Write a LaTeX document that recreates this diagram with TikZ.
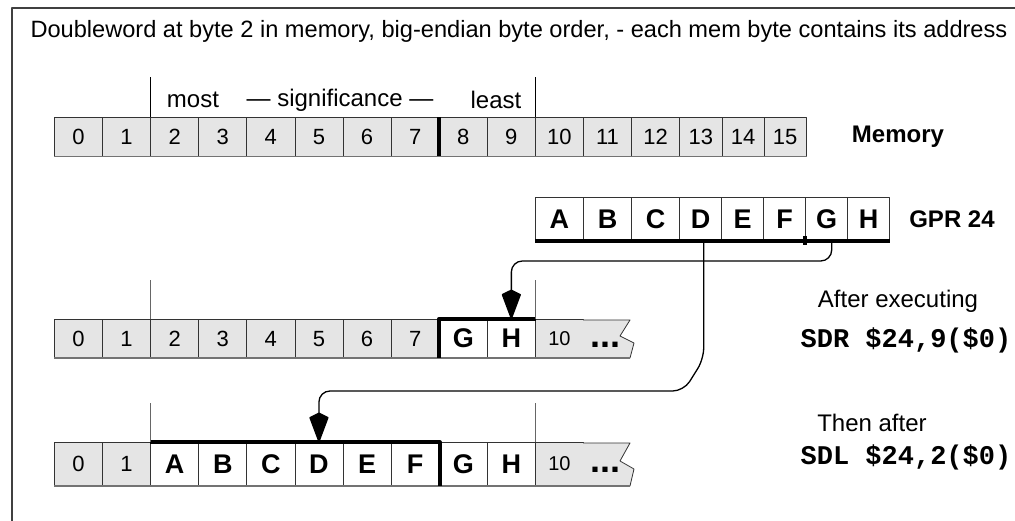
\documentclass[tikz,border=0pt]{standalone}
\usepackage{fontspec}
\setmainfont{Liberation Sans}
\setmonofont{Liberation Mono}
\usetikzlibrary{arrows.meta}

\tikzset{
  cell/.style={draw=black!80,line width=0.8pt,inner sep=0pt,anchor=south west},
  memcell/.style={cell,fill=black!10,font=\fontsize{22}{22}\selectfont},
  regcell/.style={cell,fill=white,font=\fontsize{27}{27}\selectfont\bfseries},
  dotcell/.style={cell,draw=none,fill=none,yshift=-6pt,font=\fontsize{36}{36}\selectfont\bfseries},
  bar/.style={line width=4pt,black},
  tick/.style={line width=0.8pt,black!60},
  floor/.style={line width=1.6pt,black!55},
  wire/.style={line width=1.3pt,rounded corners=11pt,-{Stealth[length=26pt,width=19pt,inset=-5pt,round]}},
  lbl/.style={font=\fontsize{24}{24}\selectfont},
  code/.style={font=\fontsize{27}{27}\selectfont\ttfamily\bfseries}
}

\begin{document}
\begin{tikzpicture}[x=1pt,y=-1pt,line cap=butt,line join=round]
  \useasboundingbox (0,0) rectangle (1015,521);
  % frame
  \draw[line width=1.2pt,black!75] (12,530) -- (12,8) -- (1020,8);
  \node[lbl,font=\fontsize{23.6}{24}\selectfont,anchor=west] (title) at (27,31)
    {Doubleword at byte 2 in memory, big-endian byte order, - each mem byte contains its address};

  % Memory
  \foreach \i in {0,...,12}
    \node[memcell,minimum width=48.1pt,minimum height=38.5pt] (m\i) at ({54+48.1*\i},156.5) {\i};
  \foreach \i in {13,14,15}
    \node[memcell,minimum width=42.2pt,minimum height=38.5pt] (m\i) at ({679.3+42.2*(\i-13)},156.5) {\i};
  \draw[floor] (m0.south west) -- (m15.south east);
  \draw[bar] (m8.north west) -- (m8.south west);
  \draw[line width=0.8pt] (m2.north west) -- ++(0,-40) (m10.north west) -- ++(0,-40);
  \node[lbl] (most) at (193,100) {most};
  \node[lbl] (signif) at (340,100) {--- significance ---};
  \node[lbl] (least) at (496,100) {least};
  \node[lbl,font=\fontsize{24}{24}\selectfont\bfseries] (memlbl) at (898,137) {Memory};

  % GPR 24
  \foreach \c [count=\k from 0] in {A,B,C}
    \node[regcell,minimum width=48.1pt,minimum height=43pt] (g\c) at ({535+48.1*\k},241) {\c};
  \foreach \c [count=\k from 0] in {D,E,F,G,H}
    \node[regcell,minimum width=42pt,minimum height=43pt] (g\c) at ({679.3+42*\k},241) {\c};
  \draw[bar] (gA.south west) -- (gH.south east);
  \draw[bar] ([yshift=5pt]gG.south west) -- ++(0,9);
  \node[lbl,font=\fontsize{24}{24}\selectfont\bfseries] (gprlbl) at (952,219) {GPR 24};

  % after SDR
  \foreach \i in {0,...,7}
    \node[memcell,minimum width=48.1pt,minimum height=38pt] (s\i) at ({54+48.1*\i},358) {\i};
  \node[regcell,minimum width=48.1pt,minimum height=38pt] (sG) at (438.8,358) {G};
  \node[regcell,minimum width=48.1pt,minimum height=38pt] (sH) at (486.9,358) {H};
  \node[memcell,minimum width=48.1pt,minimum height=38pt,font=\fontsize{20}{20}\selectfont] (s10) at (535,358) {10};
  \fill[black!10] (583,320) -- (630,320) -- (620,336) -- (634,343) -- (630,358) -- (583,358) -- cycle;
  \draw[line width=0.8pt,black!80] (583,320) -- (630,320) -- (620,336) -- (634,343) -- (630,358) -- (583,358);
  \draw[floor] (s0.south west) -- (630,358);
  \node[dotcell,minimum width=44pt,minimum height=38pt] (sdots) at (583,358) {...};
  \draw[bar] (sG.south west) -- (sG.north west) -- (sH.north east);
  \draw[tick] (s2.north west) -- ++(0,-39) (s10.north west) -- ++(0,-39);
  \node[lbl] (after) at (898,301) {After executing};
  \node[code] (sdr) at (906,340) {SDR \$24,9(\$0)};

  % after SDL
  \foreach \i in {0,1}
    \node[memcell,minimum width=48.1pt,minimum height=43pt] (t\i) at ({54+48.1*\i},486) {\i};
  \foreach \c [count=\k from 2] in {A,B,C,D,E,F,G,H}
    \node[regcell,minimum width=48.1pt,minimum height=43pt] (t\c) at ({54+48.1*\k},486) {\c};
  \node[memcell,minimum width=48.1pt,minimum height=43pt,font=\fontsize{20}{20}\selectfont] (t10) at (535,486) {10};
  \fill[black!10] (583,443) -- (630,443) -- (620,461) -- (634,469) -- (630,486) -- (583,486) -- cycle;
  \draw[line width=0.8pt,black!80] (583,443) -- (630,443) -- (620,461) -- (634,469) -- (630,486) -- (583,486);
  \draw[floor] (t0.south west) -- (630,486);
  \node[dotcell,minimum width=44pt,minimum height=43pt] (tdots) at (583,486) {...};
  \draw[bar] (tA.north west) -- (tF.north east) -- (tF.south east);
  \draw[tick] (tA.north west) -- ++(0,-39) (t10.north west) -- ++(0,-39);
  \node[lbl] (then) at (872,423) {Then after};
  \node[code] (sdl) at (906,457) {SDL \$24,2(\$0)};

  % moves
  \draw[wire] ([xshift=5pt]gG.south) -- ++(0,20) -| (sH.north);
  \draw[wire] ([xshift=3pt]gD.south) -- ++(0,118) -- ++(-20,32) -| (tD.north);
\end{tikzpicture}
\end{document}
